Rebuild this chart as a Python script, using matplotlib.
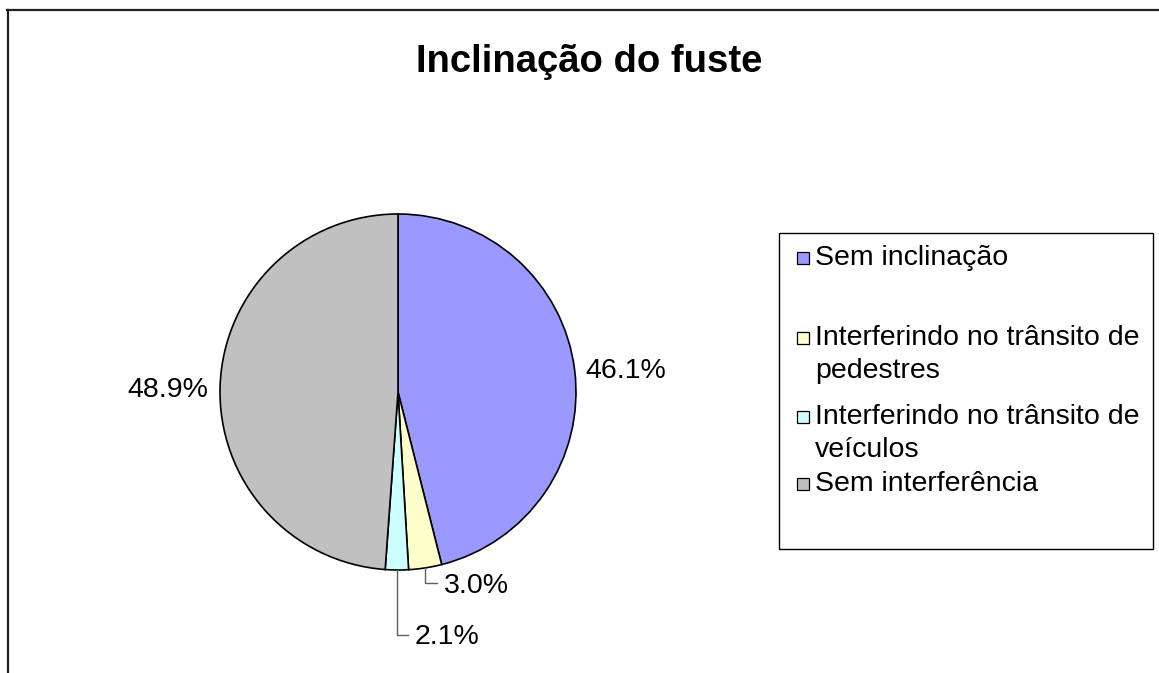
import numpy as np
import matplotlib
matplotlib.use('Agg')
import matplotlib.pyplot as plt
from matplotlib.patches import Rectangle
from matplotlib.lines import Line2D

plt.rcParams['font.family'] = ['Liberation Sans', 'DejaVu Sans']

# data
title = 'Inclinação do fuste'
categories = ['Sem inclinação',
              'Interferindo no trânsito de\npedestres',
              'Interferindo no trânsito de\nveículos',
              'Sem interferência']
shares = [46.1, 3.0, 2.1, 48.9]
colors = ['#9999FF', '#FFFFCC', '#CCFFFF', '#C0C0C0']

W, H = 1159, 673
fig = plt.figure(figsize=(W / 100, H / 100), dpi=100)


def fx(x):
    return x / W


def fy(y):
    return 1 - y / H


#outer frame (only top and left edges show)
fig.add_artist(Line2D([fx(7), fx(W)], [fy(10), fy(10)], color='#202020', lw=1.6))
fig.add_artist(Line2D([fx(8), fx(8)], [fy(10), fy(H)], color='#202020', lw=1.6))

fig.text(fx(589), fy(72), title, ha='center', va='baseline',
         fontsize=27.5, fontweight='bold')

#pie axes: centre (398, 392) px, radius 178 px
cx, cy, r = 398, 392, 178
half = 1.5 * r
ax = fig.add_axes([fx(cx - half), fy(cy + half), 2 * half / W, 2 * half / H])
wedges, _ = ax.pie(shares, colors=colors, startangle=90, counterclock=False,
                   radius=1, wedgeprops=dict(edgecolor='black', linewidth=1.2))
ax.set_xlim(-1.5, 1.5)
ax.set_ylim(-1.5, 1.5)
ax.set_aspect('equal')
ax.axis('off')

#label placement (x, baseline y, ha, leader y or None)
label_pos = [(1.281, 0.079, 'center', None),
             (0.258, -1.129, 'left', -1.073),
             (0.096, -1.416, 'left', -1.365),
             (-1.292, -0.028, 'center', None)]

for w, val, (lx, ly, ha, leader_y) in zip(wedges, shares, label_pos):
    ax.text(lx, ly, '%.1f%%' % val, ha=ha, va='baseline', fontsize=20.5)
    if leader_y is not None:
        mid = np.deg2rad((w.theta1 + w.theta2) / 2)
        mx, my = np.cos(mid), np.sin(mid)
        ax.plot([mx, mx, lx - 0.04], [my, leader_y, leader_y],
                color='#606060', lw=1, clip_on=False)

#legend drawn by hand to keep Excel-like layout
fig.add_artist(Rectangle((fx(779), fy(549)), fx(1153) - fx(779), fy(233) - fy(549),
                         facecolor='white', edgecolor='black', lw=1))
baselines = [265, 345, 424, 491]
pitch = 33
for lab, col, base in zip(categories, colors, baselines):
    fig.add_artist(Rectangle((fx(797), fy(base - 1)), 12 / W, 12 / H,
                             facecolor=col, edgecolor='black', lw=0.9))
    for i, line in enumerate(lab.split('\n')):
        fig.text(fx(815), fy(base + i * pitch), line, ha='left', va='baseline',
                 fontsize=20.5)

fig.savefig('out.png', dpi=100, facecolor='white')
